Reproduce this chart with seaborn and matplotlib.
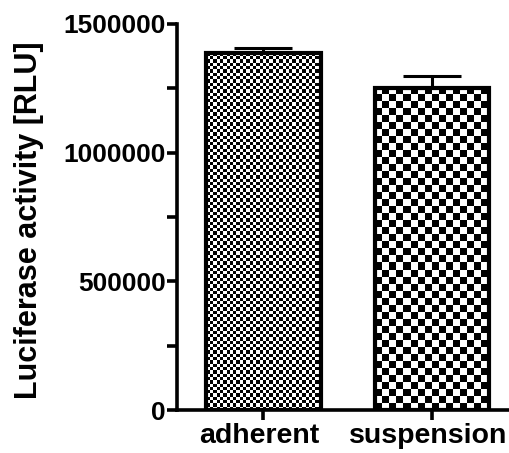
import numpy as np
import matplotlib
matplotlib.use("Agg")
import matplotlib.pyplot as plt
import matplotlib.transforms as mtransforms
import seaborn as sns
from matplotlib.ticker import MultipleLocator

conditions = ["adherent", "suspension"]
means = [1388000, 1250000]
errors = [20000, 48000]
yticks = [0, 500000, 1000000, 1500000]
ylabel = "Luciferase activity [RLU]"

sns.set_style("ticks")
plt.rcParams['font.family'] = ['Liberation Sans', 'DejaVu Sans']
plt.rcParams['font.weight'] = 'bold'
plt.rcParams['text.color'] = 'black'
plt.rcParams['axes.labelcolor'] = 'black'
plt.rcParams['xtick.color'] = 'black'
plt.rcParams['ytick.color'] = 'black'
plt.rcParams['axes.edgecolor'] = 'black'

W, H = 509, 453
fig = plt.figure(figsize=(W / 100, H / 100), dpi=100)
ax_left, ax_bottom, ax_right, ax_top = 177, 410, 509, 24
ax = fig.add_axes([ax_left / W, (H - ax_bottom) / H,
                   (ax_right - ax_left) / W, (ax_bottom - ax_top) / H])

sns.barplot(x=conditions, y=means, errorbar=None, width=0.68, color='white',
            edgecolor='black', linewidth=3, ax=ax, zorder=2)
ax.set_xlim(-0.51, 1.456)
ax.set_ylim(0, 1500000)

# checkerboard fills clipped to each bar
ax_w_px = ax_right - ax_left
ax_h_px = ax_bottom - ax_top
cells = [3.3, 7.0]
for patch, cell in zip(ax.patches, cells):
    patch.set_facecolor('none')
    nx = int(round(ax_w_px / cell))
    ny = int(round(ax_h_px / cell))
    board = (np.add.outer(np.arange(ny), np.arange(nx)) % 2).astype(float)
    xl = ax.get_xlim()
    yl = ax.get_ylim()
    im = ax.imshow(board, cmap='gray', extent=(xl[0], xl[1], yl[0], yl[1]),
                   aspect='auto', interpolation='nearest', zorder=1,
                   origin='lower')
    im.set_clip_path(patch)
ax.set_xlim(-0.51, 1.456)
ax.set_ylim(0, 1500000)

ax.errorbar(x=[0, 1], y=means, yerr=[[0, 0], errors], fmt='none',
            ecolor='black', elinewidth=2.2, capsize=21, capthick=2.2, zorder=3)

sns.despine(ax=ax)
for s in ['left', 'bottom']:
    ax.spines[s].set_linewidth(2.6)
    ax.spines[s].set_color('black')
ax.set_yticks(yticks)
ax.set_yticklabels([str(v) for v in yticks])
ax.yaxis.set_minor_locator(MultipleLocator(250000))
ax.tick_params(axis='both', which='major', direction='out', length=7, width=2.6,
               colors='black', pad=1)
ax.tick_params(axis='y', which='minor', direction='out', length=7, width=2.6,
               colors='black')
ax.tick_params(axis='y', labelsize=19)
ax.tick_params(axis='x', labelsize=20.5, pad=2.5)
for lab in ax.get_xticklabels() + ax.get_yticklabels():
    lab.set_fontweight('bold')
shift = mtransforms.ScaledTranslation(-4 / 100, 0, fig.dpi_scale_trans)
for lab in ax.get_xticklabels():
    lab.set_transform(lab.get_transform() + shift)
ax.set_ylabel(ylabel, fontsize=22, fontweight='bold')
ax.set_xlabel("")
ax.yaxis.set_label_coords(44 / W, (H - 220) / H, transform=fig.transFigure)

fig.savefig("out.png", dpi=100)
